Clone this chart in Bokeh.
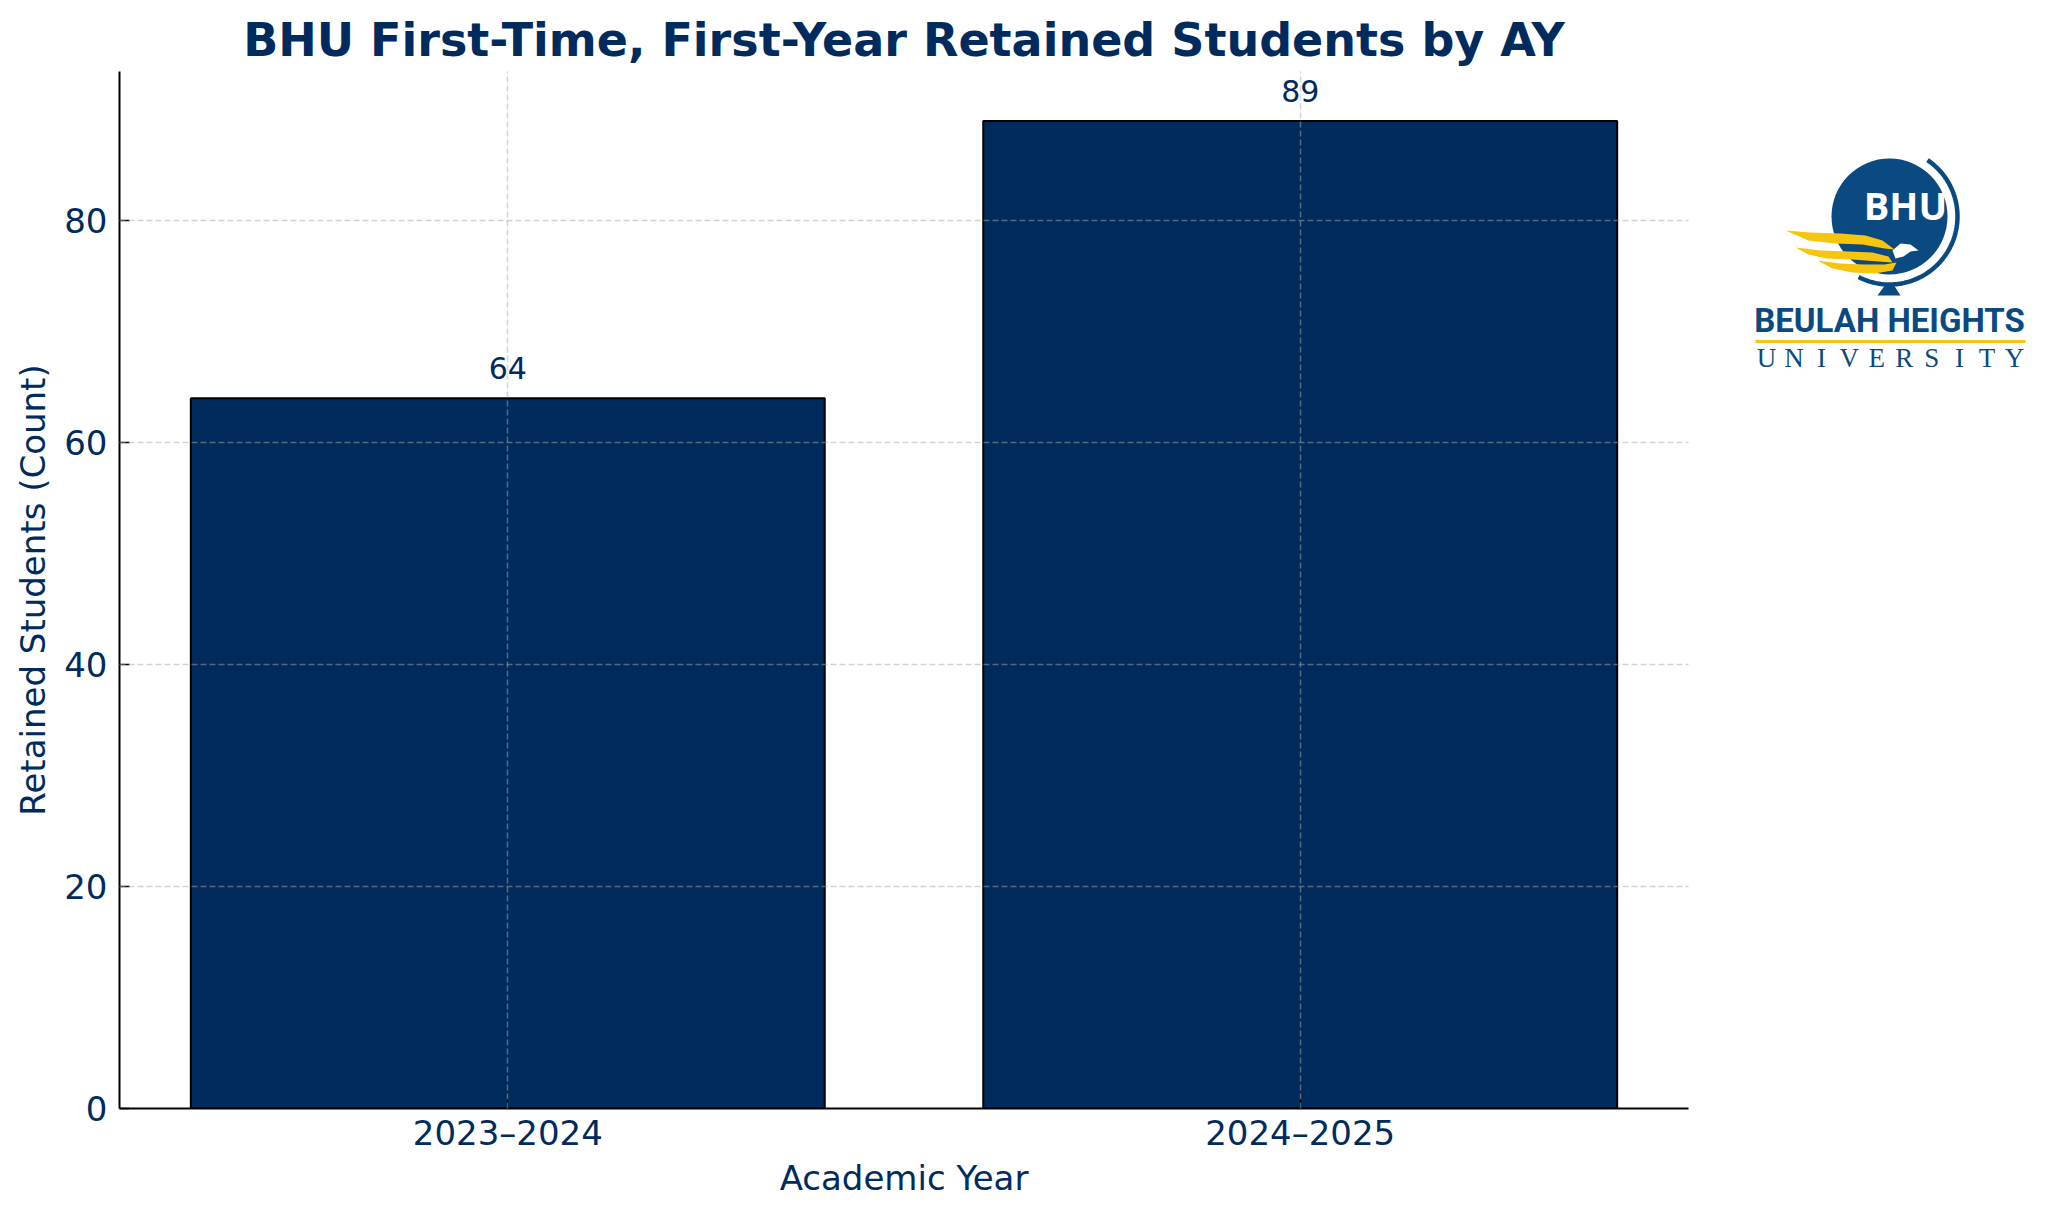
import numpy as np
from bokeh.plotting import figure
from bokeh.models import Range1d, FixedTicker, ColumnDataSource
from bokeh.layouts import row
from bokeh.embed import file_html
from bokeh.resources import INLINE
from bokeh.core.properties import value

# ---- data ----
categories = ["2023–2024", "2024–2025"]
retained = [64, 89]
y_ticks = [0, 20, 40, 60, 80]

title_text = "BHU First-Time, First-Year Retained Students by AY"
x_label = "Academic Year"
y_label = "Retained Students (Count)"

NAVY = "#002B5C"
LOGO_BLUE = "#0b4a80"
LOGO_GOLD = "#f7c410"
FONT = "DejaVu Sans"

xs = list(range(len(categories)))
src = ColumnDataSource(dict(x=xs, top=retained, label=[str(v) for v in retained]))

bar_w = 0.8
margin = 0.05 * ((len(categories) - 1) + bar_w)
x0 = -bar_w / 2 - margin
x1 = (len(categories) - 1) + bar_w / 2 + margin
ymax = max(retained) * 1.05

FL, FT, FW, FH = 119, 71, 1569, 1037
p = figure(frame_width=FW, frame_height=FH,
           x_range=Range1d(x0, x1), y_range=Range1d(0, ymax),
           output_backend="svg", toolbar_location=None,
           min_border_left=FL, min_border_right=20,
           min_border_top=FT, min_border_bottom=60,
           title=title_text)
p.outline_line_color = None
p.background_fill_color = "white"

p.title.align = "center"
p.title.text_font = FONT
p.title.text_font_size = "46px"
p.title.text_font_style = "bold"
p.title.text_color = NAVY
p.title.standoff = 9

p.vbar(x="x", top="top", width=bar_w, bottom=0, source=src,
       fill_color=NAVY, line_color="black", line_width=2)

p.text(x="x", y="top", text="label", source=src,
       text_align="center", text_baseline="alphabetic", y_offset=-30,
       text_font=value(FONT), text_font_size="30px", text_color=NAVY)

# axes
p.xaxis.ticker = FixedTicker(ticks=xs)
p.xaxis.major_label_overrides = {i: c for i, c in enumerate(categories)}
p.yaxis.ticker = FixedTicker(ticks=y_ticks)
p.xaxis.axis_label = x_label
p.yaxis.axis_label = y_label
for ax in (p.xaxis, p.yaxis):
    ax.axis_line_color = "black"
    ax.axis_line_width = 2
    ax.major_tick_in = 10
    ax.major_tick_out = 0
    ax.major_tick_line_color = "black"
    ax.major_tick_line_width = 1.5
    ax.minor_tick_line_color = None
    ax.major_label_text_font = FONT
    ax.major_label_text_font_size = "34px"
    ax.major_label_text_color = NAVY
    ax.axis_label_text_font = FONT
    ax.axis_label_text_font_size = "34px"
    ax.axis_label_text_font_style = "normal"
    ax.axis_label_text_color = NAVY
p.xaxis.major_label_standoff = 4
p.yaxis.major_label_standoff = 12
p.xaxis.axis_label_standoff = 2
p.yaxis.axis_label_standoff = 8

for g in (p.xgrid, p.ygrid):
    g.grid_line_color = "#a8a8a8"
    g.grid_line_alpha = 0.5
    g.grid_line_width = 1.5
    g.grid_line_dash = "6 3"
    g.level = "overlay"

# ---- logo panel (decorative); its frame is aligned with the main frame ----
main_w = FL + FW + 20
lg_w = 2040 - main_w
lg = figure(width=lg_w, height=FT + FH + 60, frame_height=FH,
            x_range=Range1d(main_w, main_w + lg_w),
            y_range=Range1d(FT + FH, FT), output_backend="svg", toolbar_location=None,
            min_border_left=0, min_border_right=0, min_border_top=FT, min_border_bottom=60)
lg.axis.visible = False
lg.grid.visible = False
lg.outline_line_color = None

cx, cy, r = 1889, 216, 58
lg.circle(x=[cx], y=[cy], radius=r, fill_color=LOGO_BLUE, line_color=None)
th = np.radians(np.linspace(-56, 117, 80))
lg.line(x=cx + 68 * np.cos(th), y=cy + 68 * np.sin(th),
        line_color=LOGO_BLUE, line_width=4.5)
lg.patch(x=[1877, 1900, 1893, 1885], y=[295, 295, 284, 284], fill_color=LOGO_BLUE, line_color=None)
lg.text(x=[1905], y=[204], text=["BHU"], text_align="center", text_baseline="alphabetic",
        text_font=value("Open Sans"), text_font_style="bold", text_font_size="38px",
        text_color="white")
wings = [
    ([1785, 1810, 1840, 1865, 1882, 1894, 1884, 1862, 1835, 1808],
     [230, 232, 233, 235, 240, 249, 248, 244, 243, 240]),
    ([1795, 1820, 1848, 1872, 1888, 1892, 1878, 1852, 1826, 1808],
     [247, 250, 251, 252, 256, 262, 261, 259, 258, 254]),
    ([1817, 1840, 1864, 1884, 1896, 1892, 1874, 1852, 1832],
     [260, 263, 264, 264, 262, 270, 273, 272, 268]),
]
for wx, wy in wings:
    lg.patch(x=wx, y=wy, fill_color=LOGO_GOLD, line_color=None)
lg.patch(x=[1892, 1900, 1910, 1918, 1910, 1903, 1895],
         y=[250, 243, 244, 250, 251, 256, 258], fill_color="white", line_color=None)
lg.text(x=[1889], y=[320], text=["BEULAH HEIGHTS"], text_align="center", text_baseline="alphabetic",
        text_font=value("Roboto"), text_font_style="bold", text_font_size="33px",
        text_color=LOGO_BLUE)
lg.line(x=[1755, 2025], y=[341, 341], line_color=LOGO_GOLD, line_width=3)
letters = list("UNIVERSITY")
lg.text(x=np.linspace(1766, 2014, len(letters)), y=[357] * len(letters), text=letters,
        text_align="center", text_baseline="alphabetic",
        text_font=value("Liberation Serif"), text_font_size="27px",
        text_color=LOGO_BLUE)

layout = row(p, lg)
open("out.html", "w").write(file_html(layout, INLINE))
